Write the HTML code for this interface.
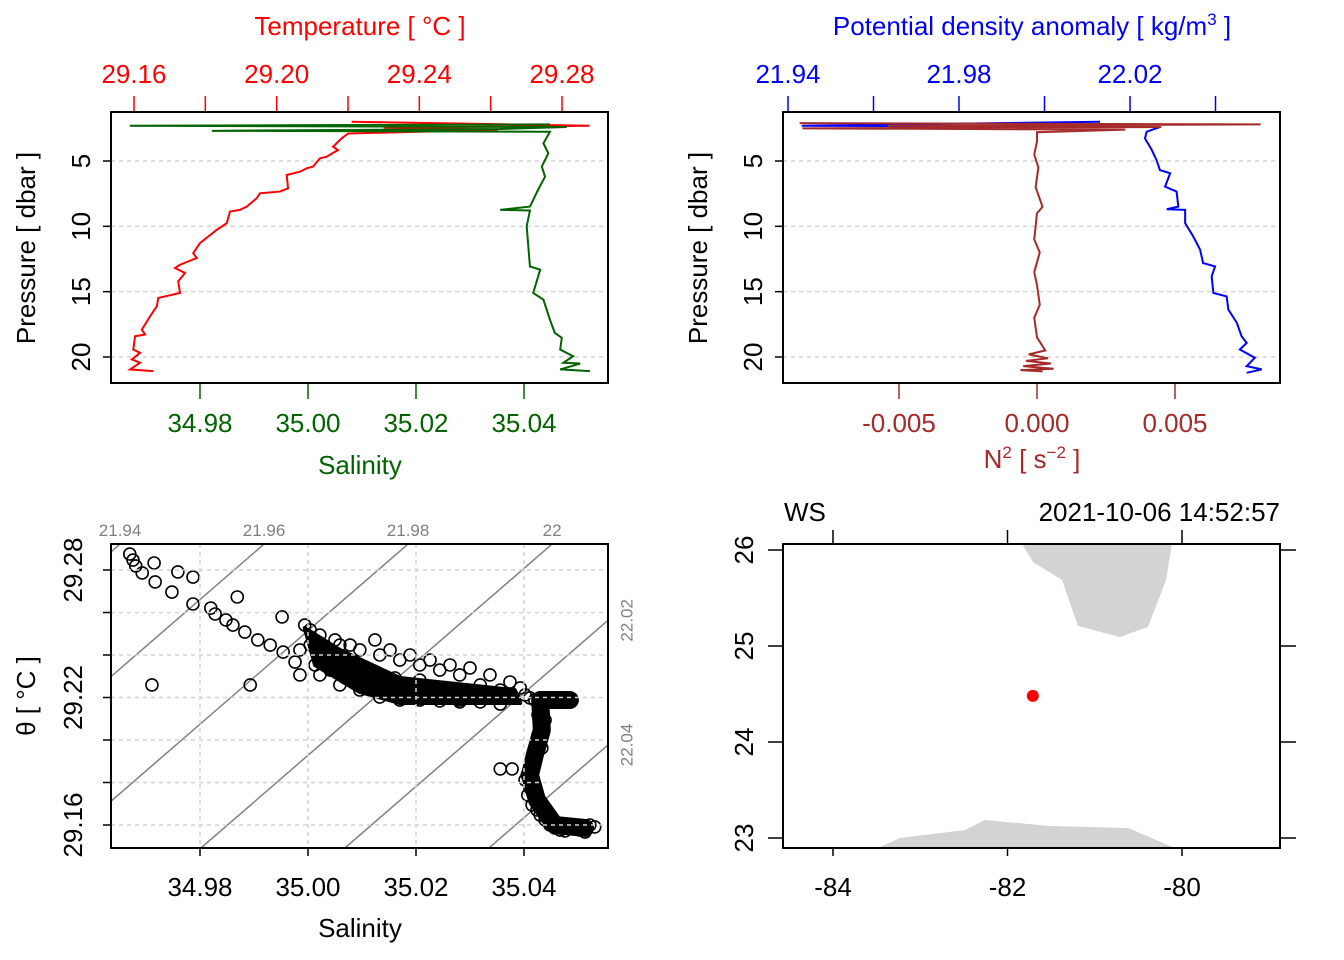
<!DOCTYPE html>
<html><head><meta charset="utf-8"><style>
html,body{margin:0;padding:0;background:#fff;}
svg{display:block;font-family:"Liberation Sans",sans-serif;}
</style></head>
<body>
<svg id="c" width="1344" height="960" viewBox="0 0 1344 960"></svg>
<script>
// ---- Panel 1 data: temperature & salinity profiles ----
const tPres = [2.0,2.3,2.45,2.6,2.9,3.27,3.91,4.16,4.67,4.80,5.43,5.56,5.82,6.07,7.09,7.34,7.47,7.85,8.49,8.74,8.87,9.76,10.27,11.28,12.05,12.43,12.94,13.19,13.57,14.21,15.10,15.48,16.12,16.89,17.90,18.28,18.41,19.43,19.68,20.19,20.44,20.95,21.08];
const tVals = [29.221,29.2877,29.23,29.262,29.22,29.2182,29.2158,29.2172,29.2140,29.2121,29.2102,29.2084,29.2065,29.2028,29.2032,29.2009,29.1953,29.1944,29.1916,29.1897,29.1869,29.1860,29.1832,29.1785,29.1766,29.1776,29.1729,29.1715,29.1743,29.1724,29.1729,29.1668,29.1664,29.1645,29.1622,29.1631,29.1603,29.1598,29.1617,29.1594,29.1617,29.1589,29.1654];
const sPres = [2.2,2.3,2.4,2.55,2.69,2.76,3.65,4.41,5.43,6.2,7.21,8.49,8.74,8.79,10.0,11.54,13.07,13.32,15.10,15.61,17.14,18.15,18.53,19.43,19.94,20.44,20.5,20.95,21.08];
const sVals = [35.0448,34.967,35.0479,35.0356,34.9822,35.0448,35.0436,35.0445,35.0433,35.0439,35.0426,35.0411,35.0356,35.0411,35.0405,35.0408,35.0411,35.0430,35.0417,35.0436,35.0448,35.0457,35.0470,35.0467,35.0491,35.0473,35.0504,35.0467,35.0522];
// ---- Panel 2 data: density & N2 ----
const dPres = [2.0,2.3,2.4,2.76,3.27,4.16,4.92,5.69,5.94,6.96,7.34,8.49,8.69,8.74,9.76,10.78,11.79,12.81,13.07,13.83,15.10,15.36,16.37,17.39,18.41,18.92,19.43,20.06,20.70,20.95,21.21];
const dVals = [22.013,21.9432,22.027,22.0239,22.0235,22.0251,22.0262,22.0270,22.0294,22.0282,22.0309,22.0313,22.0286,22.0329,22.0329,22.0348,22.0364,22.0371,22.0399,22.0391,22.0395,22.0426,22.0430,22.0450,22.0461,22.0473,22.0457,22.0492,22.0473,22.0508,22.0473];
const nPres = [2.1,2.2,2.3,2.4,2.5,2.6,2.8,3.5,4.5,5.5,7,8.5,9,11,12,13.5,14.5,16,17,18.5,19.5,19.8,20.1,20.3,20.5,20.7,20.9,21.0,21.1];
const nVals = [-0.0086,0.0081,-0.0054,0.0045,-0.0085,0.0032,0.0,0.0,-0.0001,0.00005,-0.00005,0.0002,0.0,-0.0001,0.0001,-0.0001,0.0,0.0001,-0.0001,0.0,0.0003,-0.0003,0.0004,-0.0004,0.0005,-0.0005,0.0006,-0.0006,0.0002];
// ---- Panel 3 data: TS scatter ----
const tsS = [34.9670,34.9676,34.9681,34.9693,34.9717,34.9715,34.9748,34.9759,34.9787,34.9787,34.9820,34.9828,34.9869,34.9848,34.9861,34.9883,34.9907,34.9930,34.9952,34.9954,34.9976,34.9994,35.0004,35.0022,35.0050,35.0078,35.0124,35.0152,35.0189,35.0226,35.0263,35.0300,35.0337,35.0374,35.0393,35.0004,35.0022,35.0041,35.0069,35.0096,35.0133,35.0170,35.0207,35.0244,35.0281,35.0319,35.0356,35.0022,35.0059,35.0096,35.0133,35.0170,35.0207,35.0244,35.0281,34.9985,34.9985,34.9711,34.9893,35.0411,35.0439,35.0467,35.0485,35.0430,35.0430,35.0430,35.0420,35.0411,35.0356,35.0378,35.0402,35.0407,35.0415,35.0430,35.0448,35.0467,35.0494,35.0522,35.0513,35.0439,35.0420,35.0402,35.0356,35.0319,35.0281,35.0244,35.0207,35.0170,35.0133,35.0096,35.0059,35.0041,35.0013,35.0078,35.0115,35.0161,35.0207,35.0426,35.0433,35.0426,35.0433,35.0417,35.0406,35.0411,35.0420,35.0424,35.0439,35.0457,35.0476,35.0504,35.0531];
const tsT = [29.2875,29.2847,29.2819,29.2786,29.2744,29.2833,29.2696,29.2791,29.2767,29.2640,29.2621,29.2593,29.2673,29.2565,29.2541,29.2508,29.2471,29.2447,29.2579,29.2414,29.2367,29.2541,29.2518,29.2494,29.2471,29.2447,29.2471,29.2424,29.2400,29.2376,29.2353,29.2339,29.2306,29.2273,29.2245,29.2447,29.2376,29.2329,29.2292,29.2268,29.2245,29.2226,29.2212,29.2198,29.2188,29.2179,29.2169,29.2306,29.2259,29.2235,29.2202,29.2188,29.2188,29.2184,29.2179,29.2424,29.2306,29.2259,29.2259,29.2198,29.2198,29.2188,29.2188,29.2141,29.2071,29.2000,29.1929,29.1868,29.1864,29.1864,29.1812,29.1741,29.1694,29.1647,29.1600,29.1576,29.1586,29.1600,29.1567,29.2094,29.2188,29.2212,29.2235,29.2259,29.2306,29.2329,29.2353,29.2376,29.2400,29.2424,29.2447,29.2400,29.2353,29.2353,29.2320,29.2292,29.2282,29.2118,29.2047,29.2024,29.1962,29.1906,29.1835,29.1774,29.1718,29.1671,29.1624,29.1586,29.1572,29.1576,29.1591];
// dense (overplotted) regions of the TS cloud
const denseWedgeS = [34.9994,35.0059,35.0170,35.0383,35.0393,35.0170,35.0096,35.0013];
const denseWedgeT = [29.2527,29.2424,29.2292,29.2235,29.2174,29.2174,29.2226,29.2353];
const denseTrackS = [35.0485,35.0430,35.0433,35.0420,35.0411,35.0424,35.0457,35.0513];
const denseTrackT = [29.2188,29.2188,29.2047,29.1929,29.1835,29.1718,29.1600,29.1586];
const sigmaLevels = [21.94,21.96,21.98,22.00,22.02,22.04,22.06,22.08];
// ---- Panel 4 data: map ----
const landTopLon = [-81.834,-81.708,-81.375,-81.192,-80.711,-80.390,-80.183,-80.115];
const landTopLat = [26.0625,25.875,25.6875,25.208,25.094,25.198,25.6875,26.0625];
const landBotLon = [-83.484,-83.232,-82.487,-82.258,-81.513,-80.619,-80.080];
const landBotLat = [22.896,23.0,23.083,23.1875,23.125,23.104,22.896];
const stationLon = -81.71, stationLat = 24.48;

const svg = document.getElementById('c');
const NS = 'http://www.w3.org/2000/svg';
const FS = 26, TFS = 26;
function mk(tag, attrs, parent){const e=document.createElementNS(NS,tag);for(const k in attrs)e.setAttribute(k,attrs[k]);(parent||svg).appendChild(e);return e;}
function txt(s,x,y,opts,parent){const e=mk('text',Object.assign({x:x,y:y,'font-size':FS,'text-anchor':'middle',fill:'#000'},opts||{}),parent);e.textContent=s;return e;}
function lin(d0,d1,r0,r1){return v=>r0+(v-d0)*(r1-r0)/(d1-d0);}
const GRID='#d3d3d3';

const defs=mk('defs',{});
const cp1=mk('clipPath',{id:'cl1'},defs);mk('rect',{x:111,y:112,width:497,height:271},cp1);
const cp2=mk('clipPath',{id:'cl2'},defs);mk('rect',{x:783,y:112,width:497,height:271},cp2);
const cp3=mk('clipPath',{id:'cl3'},defs);mk('rect',{x:111,y:544,width:497,height:304},cp3);
const cp4=mk('clipPath',{id:'cl4'},defs);mk('rect',{x:783,y:544,width:497,height:304},cp4);

// ===== Panel 1 =====
const yP = lin(5,20,161,357);
const xT = lin(29.16,29.28,134,562);
const xS = lin(34.98,35.04,200,524);
function pressureAxis(x0,x1,gname){
  const g=mk('g',{});
  [5,10,15,20].forEach(p=>{const y=yP(p);
    mk('line',{x1:x0,x2:x1,y1:y,y2:y,stroke:GRID,'stroke-dasharray':'4,4','stroke-width':1.5},g);
    mk('line',{x1:x0-8,x2:x0,y1:y,y2:y,stroke:'#000','stroke-width':1.5},g);
    txt(String(p),x0-28,y,{transform:`rotate(-90 ${x0-28} ${y})`,'dominant-baseline':'middle'},g);
  });
}
pressureAxis(111,608,'pressure-axis-left');
const gT=mk('g',{});
[29.16,29.18,29.20,29.22,29.24,29.26,29.28].forEach((v,i)=>{const x=xT(v);mk('line',{x1:x,x2:x,y1:96,y2:112,stroke:'red','stroke-width':1.5},gT);
  if(i%2===0) txt(v.toFixed(2),x,83,{fill:'red'},gT);});
txt('Temperature [ °C ]',360,35,{fill:'red','font-size':TFS},gT);
const gS=mk('g',{});
[34.98,35.00,35.02,35.04].forEach(v=>{const x=xS(v);mk('line',{x1:x,x2:x,y1:383,y2:399,stroke:'#006400','stroke-width':1.5},gS);txt(v.toFixed(2),x,432,{fill:'#006400'},gS);});
txt('Salinity',360,474,{fill:'#006400','font-size':TFS},gS);
txt('Pressure [ dbar ]',35,248,{transform:'rotate(-90 35 248)','font-size':TFS,});
const c1=mk('g',{'clip-path':'url(#cl1)'});
let pT=mk('polyline',{points:tPres.map((p,i)=>xT(tVals[i])+','+yP(p)).join(' '),fill:'none',stroke:'red','stroke-width':2},c1);

let pS=mk('polyline',{points:sPres.map((p,i)=>xS(sVals[i])+','+yP(p)).join(' '),fill:'none',stroke:'#006400','stroke-width':2},c1);

mk('rect',{x:111,y:112,width:497,height:271,fill:'none',stroke:'#000','stroke-width':2,});

// ===== Panel 2 =====
const xD = lin(21.94,22.02,788,1130);
const xN = lin(-0.005,0.005,899,1175);
pressureAxis(783,1280,'pressure-axis-right');
const gD=mk('g',{});
[21.94,21.96,21.98,22.00,22.02,22.04].forEach((v,i)=>{const x=xD(v);mk('line',{x1:x,x2:x,y1:96,y2:112,stroke:'blue','stroke-width':1.5},gD);
  if(i%2===0) txt(v.toFixed(2),x,83,{fill:'blue'},gD);});
const dt=txt('',1032,35,{fill:'blue','font-size':TFS},gD);
dt.innerHTML='Potential density anomaly [ kg/m<tspan dy="-10" font-size="17">3</tspan><tspan dy="10"> ]</tspan>';
const gN=mk('g',{});
[-0.005,0,0.005].forEach(v=>{const x=xN(v);mk('line',{x1:x,x2:x,y1:383,y2:399,stroke:'#a52a2a','stroke-width':1.5},gN);txt(v===0?'0.000':v.toFixed(3),x,432,{fill:'#a52a2a'},gN);});
const nt=txt('',1032,468,{fill:'#a52a2a','font-size':TFS},gN);
nt.innerHTML='N<tspan dy="-10" font-size="17">2</tspan><tspan dy="10"> [ s</tspan><tspan dy="-10" font-size="17">−2</tspan><tspan dy="10"> ]</tspan>';
txt('Pressure [ dbar ]',707,248,{transform:'rotate(-90 707 248)','font-size':TFS,});
const c2=mk('g',{'clip-path':'url(#cl2)'});
let pD=mk('polyline',{points:dPres.map((p,i)=>xD(dVals[i])+','+yP(p)).join(' '),fill:'none',stroke:'blue','stroke-width':2},c2);

let pN=mk('polyline',{points:nPres.map((p,i)=>xN(nVals[i])+','+yP(p)).join(' '),fill:'none',stroke:'#a52a2a','stroke-width':2},c2);

mk('rect',{x:783,y:112,width:497,height:271,fill:'none',stroke:'#000','stroke-width':2,});

// ===== Panel 3 =====
const yTh = lin(29.16,29.28,825,570);
const xS3 = xS;
const g3t=mk('g',{});
[34.98,35.00,35.02,35.04].forEach(v=>{const x=xS3(v);
  mk('line',{x1:x,x2:x,y1:848,y2:856,stroke:'#000','stroke-width':1.5},g3t);txt(v.toFixed(2),x,896,{},g3t);});
[29.16,29.18,29.20,29.22,29.24,29.26,29.28].forEach((v,i)=>{const y=yTh(v);
  mk('line',{x1:103,x2:111,y1:y,y2:y,stroke:'#000','stroke-width':1.5},g3t);
  if(i%3===0) txt(v.toFixed(2),75,y,{transform:`rotate(-90 75 ${y})`,'dominant-baseline':'middle'},g3t);});
txt('Salinity',360,937,{'font-size':TFS,});
txt('θ [ °C ]',35,696,{transform:'rotate(-90 35 696)','font-size':TFS,});
const S0=35.0452,T0=29.2922,Sg0=22.00;
const c3=mk('g',{'clip-path':'url(#cl3)'});
const Ttop=29.2922, Tbot=29.16+(825-848)/2125;
sigmaLevels.forEach(sg=>{
  const sAt=T=>S0+((sg-Sg0)+0.341*(T-T0))/0.75;
  const l=mk('line',{x1:xS3(sAt(Ttop)),y1:yTh(Ttop),x2:xS3(sAt(Tbot)),y2:yTh(Tbot),stroke:'#808080','stroke-width':1.5},c3);
  
  const xt=xS3(sAt(Ttop));
  if(xt>=111&&xt<=608){txt(sg===22?'22':sg.toFixed(2),xt,536,{fill:'#808080','font-size':17});}
  else if(xt>608){
    const Sr=34.98+(608-200)/5400; const Tr=T0+(0.75*(Sr-S0)-(sg-Sg0))/0.341;
    const yr=yTh(Tr); if(yr>544&&yr<848) txt(sg.toFixed(2),628,yr,{fill:'#808080','font-size':17,transform:`rotate(-90 628 ${yr})`,'dominant-baseline':'middle'});
  }
});
let dw=mk('polygon',{points:denseWedgeS.map((s,i)=>xS3(s)+','+yTh(denseWedgeT[i])).join(' '),fill:'#000',stroke:'#000','stroke-width':4,'stroke-linejoin':'round'},c3);

let dtk=mk('polyline',{points:denseTrackS.map((s,i)=>xS3(s)+','+yTh(denseTrackT[i])).join(' '),fill:'none',stroke:'#000','stroke-width':18,'stroke-linejoin':'round','stroke-linecap':'round'},c3);

tsS.forEach((s,i)=>{const c=mk('circle',{cx:xS3(s),cy:yTh(tsT[i]),r:6,fill:'none',stroke:'#000','stroke-width':1.6},c3);
  });
const g3=mk('g',{});
[34.98,35.00,35.02,35.04].forEach(v=>{const x=xS3(v);mk('line',{x1:x,x2:x,y1:544,y2:848,stroke:GRID,'stroke-dasharray':'4,4','stroke-width':1.5},g3);});
[29.16,29.18,29.20,29.22,29.24,29.26,29.28].forEach(v=>{const y=yTh(v);mk('line',{x1:111,x2:608,y1:y,y2:y,stroke:GRID,'stroke-dasharray':'4,4','stroke-width':1.5},g3);});
mk('rect',{x:111,y:544,width:497,height:304,fill:'none',stroke:'#000','stroke-width':2,});

// ===== Panel 4 =====
const xLon = lin(-84,-80,833,1182);
const yLat = lin(23,26,838,550);
const c4=mk('g',{'clip-path':'url(#cl4)'});
let l1=mk('polygon',{points:landTopLon.map((v,i)=>xLon(v)+','+yLat(landTopLat[i])).join(' '),fill:'#d3d3d3',stroke:'none'},c4);

let l2=mk('polygon',{points:landBotLon.map((v,i)=>xLon(v)+','+yLat(landBotLat[i])).join(' '),fill:'#d3d3d3',stroke:'none'},c4);

let st=mk('circle',{cx:xLon(stationLon),cy:yLat(stationLat),r:6,fill:'red'});

const g4=mk('g',{});
[-84,-82,-80].forEach(v=>{const x=xLon(v);mk('line',{x1:x,x2:x,y1:848,y2:856,stroke:'#000','stroke-width':1.5},g4);
  mk('line',{x1:x,x2:x,y1:530,y2:544,stroke:'#000','stroke-width':1.5},g4);txt(String(v),x,896,{},g4);});
[23,24,25,26].forEach(v=>{const y=yLat(v);mk('line',{x1:768,x2:783,y1:y,y2:y,stroke:'#000','stroke-width':1.5},g4);
  mk('line',{x1:1280,x2:1296,y1:y,y2:y,stroke:'#000','stroke-width':1.5},g4);
  txt(String(v),746,y,{transform:`rotate(-90 746 ${y})`,'dominant-baseline':'middle'},g4);});
txt('WS',784,521,{'text-anchor':'start',});
txt('2021-10-06 14:52:57',1280,521,{'text-anchor':'end',});
mk('rect',{x:783,y:544,width:497,height:304,fill:'none',stroke:'#000','stroke-width':2,});
</script>
</body></html>
